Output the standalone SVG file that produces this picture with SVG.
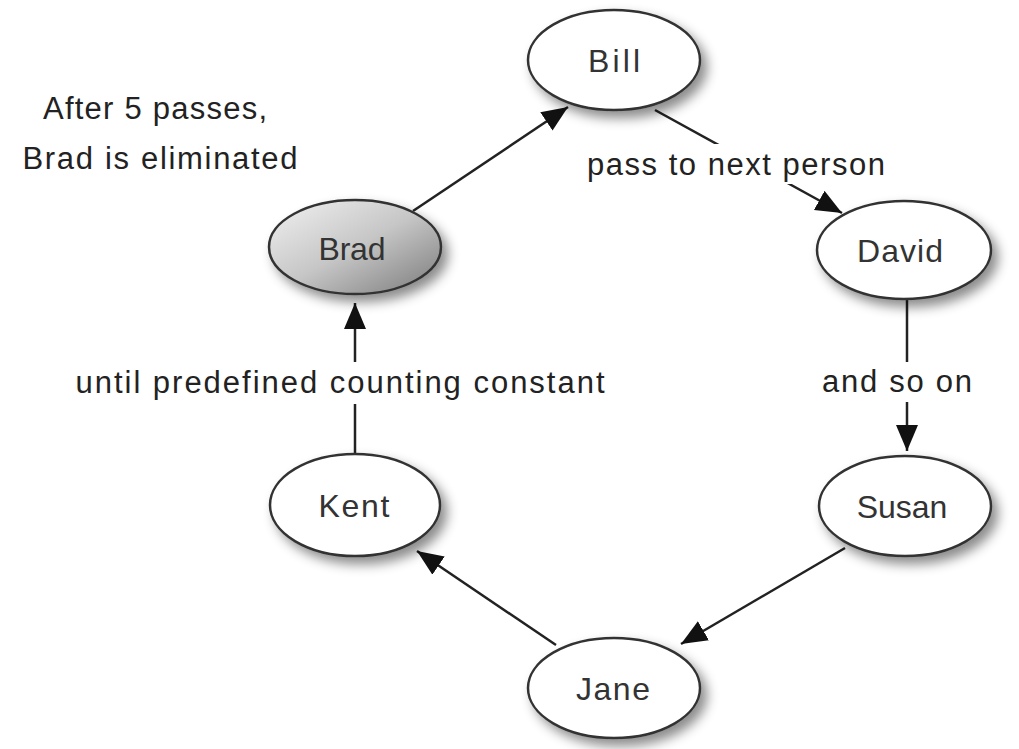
<svg xmlns="http://www.w3.org/2000/svg" width="1019" height="749" viewBox="0 0 1019 749">
<style>
.node{fill:#fff;stroke:#333;stroke-width:2.5;filter:url(#sh)}
.nt{font-family:"Liberation Sans","DejaVu Sans",sans-serif;font-size:32px;fill:#333;text-anchor:middle}
.lt{font-family:"Liberation Sans","DejaVu Sans",sans-serif;font-size:31px;fill:#222;text-anchor:middle}
.edge{stroke:#222;stroke-width:2.5;fill:none;marker-end:url(#ah)}
.bg{fill:#fff}
</style>
<defs>
<filter id="sh" x="-30%" y="-30%" width="170%" height="180%">
<feDropShadow dx="6" dy="7" stdDeviation="6" flood-color="#000" flood-opacity="0.45"/>
</filter>
<linearGradient id="gb" x1="0" y1="0" x2="1" y2="1">
<stop offset="0" stop-color="#f2f2f2"/>
<stop offset="0.5" stop-color="#c6c6c6"/>
<stop offset="1" stop-color="#7a7a7a"/>
</linearGradient>
<marker id="ah" markerUnits="userSpaceOnUse" markerWidth="28" markerHeight="24" refX="26" refY="11" orient="auto">
<path d="M0,0 L26,11 L0,22 Z" fill="#111"/>
</marker>
</defs>
<rect width="1019" height="749" fill="#fff"/>
<g id="connectors">
<line class="edge" x1="413" y1="211" x2="568" y2="107"/>
<line class="edge" x1="655" y1="110" x2="842" y2="213"/>
<line class="edge" x1="907" y1="299" x2="907" y2="451"/>
<line class="edge" x1="845" y1="548" x2="681" y2="644"/>
<line class="edge" x1="556" y1="645" x2="417" y2="551"/>
<line class="edge" x1="355" y1="453" x2="355" y2="303"/>
</g>
<g id="labels">
<rect class="bg" x="584" y="144" width="304" height="40"/>
<text class="lt" x="736" y="175" textLength="298" lengthAdjust="spacing">pass to next person</text>
<rect class="bg" x="818" y="362" width="158" height="40"/>
<text class="lt" x="897" y="392" textLength="150" lengthAdjust="spacing">and so on</text>
<rect class="bg" x="70" y="362" width="540" height="42"/>
<text class="lt" x="340" y="393" textLength="529" lengthAdjust="spacing">until predefined counting constant</text>
<text class="lt" x="155" y="119" textLength="224" lengthAdjust="spacing">After 5 passes,</text>
<text class="lt" x="160" y="169" textLength="275" lengthAdjust="spacing">Brad is eliminated</text>
</g>
<g id="node-bill"><ellipse class="node" cx="614" cy="60" rx="86" ry="50"/><text class="nt" x="614" y="72" textLength="52" lengthAdjust="spacing">Bill</text></g>
<g id="node-brad"><ellipse class="node" cx="355" cy="247" rx="86" ry="47" style="fill:url(#gb)"/><text class="nt" x="352" y="260" textLength="67" lengthAdjust="spacing">Brad</text></g>
<g id="node-david"><ellipse class="node" cx="904" cy="250" rx="87" ry="49"/><text class="nt" x="900" y="262" textLength="86" lengthAdjust="spacing">David</text></g>
<g id="node-susan"><ellipse class="node" cx="905" cy="506" rx="86" ry="50"/><text class="nt" x="902" y="518">Susan</text></g>
<g id="node-jane"><ellipse class="node" cx="614" cy="688" rx="86" ry="50"/><text class="nt" x="613" y="700" textLength="74" lengthAdjust="spacing">Jane</text></g>
<g id="node-kent"><ellipse class="node" cx="355" cy="505" rx="85" ry="51"/><text class="nt" x="354" y="517" textLength="71" lengthAdjust="spacing">Kent</text></g>
</svg>
